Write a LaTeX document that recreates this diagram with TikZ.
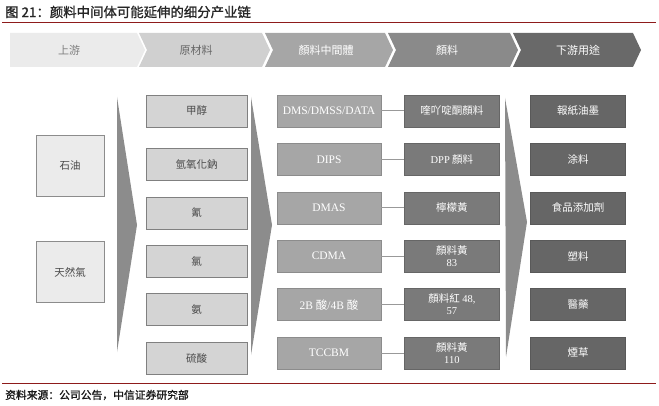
\documentclass[tikz,border=0pt]{standalone}
\usepackage{fontspec}
\setmainfont{Liberation Serif}
\newfontfamily\cjk{Noto Sans CJK TC}
\newfontfamily\cjksc[FakeBold=1.2]{Noto Sans CJK SC}
\usepackage{xcolor}
\usepackage{tikz}
\usetikzlibrary{positioning}

\definecolor{rulered}{HTML}{8E1B1B}
\definecolor{chevone}{HTML}{EBEBEB}
\definecolor{chevtwo}{HTML}{D0D0D0}
\definecolor{chevthree}{HTML}{A6A6A6}
\definecolor{chevfour}{HTML}{8A8A8A}
\definecolor{chevfive}{HTML}{696969}
\definecolor{wedgegray}{HTML}{8C8C8C}
\definecolor{textgray}{HTML}{4A4A4A}

\begin{document}
\begin{tikzpicture}[x=1pt, y=-1pt, node distance=16pt,
  srcbox/.style={rectangle, draw=black!45, fill=chevone, minimum width=68pt, minimum height=61pt, inner sep=0pt, text=textgray, font=\cjk\fontsize{10.5}{12}\selectfont},
  rawbox/.style={rectangle, draw=black!50, fill=black!17, minimum width=101pt, minimum height=32pt, inner sep=0pt, text=textgray, font=\cjk\fontsize{10.5}{12}\selectfont},
  midbox/.style={rectangle, draw=black!45, fill=chevthree, minimum width=104pt, minimum height=32pt, inner sep=0pt, text=white, font=\fontsize{11.5}{13}\selectfont},
  pigbox/.style={rectangle, draw=black!60, fill=black!52, minimum width=95pt, minimum height=32pt, inner sep=0pt, text=white, align=center, font=\cjk\fontsize{10.5}{12}\selectfont},
  usebox/.style={rectangle, draw=black!65, fill=black!60, minimum width=95pt, minimum height=32pt, inner sep=0pt, text=white, font=\cjk\fontsize{10.5}{12}\selectfont},
  chevtext/.style={font=\cjk\fontsize{11}{13}\selectfont, inner sep=0pt}]
\useasboundingbox (0,0) rectangle (659,406);

% title and rules
\node[anchor=west, inner sep=0pt, text=black!85, font=\cjksc\fontsize{13.4}{15}\selectfont] (title) at (5,12) {图 21：颜料中间体可能延伸的细分产业链};
\draw[rulered, line width=0.9pt] (2,22) -- (656,22);
\draw[rulered, line width=0.9pt] (2,383) -- (656,383);
\node[anchor=west, inner sep=0pt, text=black!90, font=\cjksc\fontsize{10.8}{12}\selectfont] (source) at (5,395) {资料来源：公司公告，中信证券研究部};

% chevron row
\fill[chevone] (10,33) -- (137,33) -- (145,50) -- (137,67) -- (10,67) -- cycle;
\fill[chevtwo] (139,33) -- (262,33) -- (270,50) -- (262,67) -- (139,67) -- (147,50) -- cycle;
\fill[chevthree] (265,33) -- (385,33) -- (393,50) -- (385,67) -- (265,67) -- (273,50) -- cycle;
\fill[chevfour] (388,33) -- (510,33) -- (518,50) -- (510,67) -- (388,67) -- (396,50) -- cycle;
\fill[chevfive] (513,33) -- (633,33) -- (641,50) -- (633,67) -- (513,67) -- (521,50) -- cycle;
\node[chevtext, text=black!50] (up) at (69,50) {上游};
\node[chevtext, text=black!60] (raw) at (196,50) {原材料};
\node[chevtext, text=white] (mid) at (326,50) {顏料中間體};
\node[chevtext, text=white] (pig) at (447,50) {顏料};
\node[chevtext, text=white] (down) at (578,50) {下游用途};

% big wedges
\fill[wedgegray] (117,97) -- (137,225) -- (117,352) -- cycle;
\fill[wedgegray] (251,97) -- (272,225) -- (251,355) -- cycle;
\fill[wedgegray] (505,98) -- (527,222) -- (506,357) -- cycle;

% sources
\node[srcbox] (oil) at (70,165.5) {石油};
\node[srcbox] (gas) at (70,272) {天然氣};

% raw materials
\node[rawbox] (meth) at (196.5,111) {甲醇};
\node[rawbox, below=21pt of meth] (naoh) {氫氧化鈉};
\node[rawbox, below=of naoh] (cyan) {氰};
\node[rawbox, below=of cyan] (chlor) {氯};
\node[rawbox, below=of chlor] (ammo) {氨};
\node[rawbox, below=of ammo] (sulf) {硫酸};

% intermediates
\node[midbox] (dms) at (329,111) {DMS/DMSS/DATA};
\node[midbox, below=of dms] (dips) {DIPS};
\node[midbox, below=of dips] (dmas) {DMAS};
\node[midbox, below=of dmas] (cdma) {CDMA};
\node[midbox, below=of cdma] (twob) {2B {\cjk 酸}/4B {\cjk 酸}};
\node[midbox, below=of twob] (tccbm) {TCCBM};

% pigments
\node[pigbox, right=23pt of dms] (quin) {喹吖啶酮顏料};
\node[pigbox, right=23pt of dips] (dpp) {{\rmfamily DPP} 顏料};
\node[pigbox, right=23pt of dmas] (lemon) {檸檬黃};
\node[pigbox, right=23pt of cdma] (yone) {顏料黃\\{\rmfamily 83}};
\node[pigbox, right=23pt of twob] (red) {顏料紅 {\rmfamily 48,}\\{\rmfamily 57}};
\node[pigbox, right=23pt of tccbm] (ytwo) {顏料黃\\{\rmfamily 110}};

\draw[black!40, line width=1pt] (dms) -- (quin);
\draw[black!40, line width=1pt] (dips) -- (dpp);
\draw[black!40, line width=1pt] (dmas) -- (lemon);
\draw[black!40, line width=1pt] (cdma) -- (yone);
\draw[black!40, line width=1pt] (twob) -- (red);
\draw[black!40, line width=1pt] (tccbm) -- (ytwo);

% downstream uses
\node[usebox] (ink) at (578,111) {報紙油墨};
\node[usebox, below=of ink] (coat) {涂料};
\node[usebox, below=of coat] (food) {食品添加劑};
\node[usebox, below=of food] (plast) {塑料};
\node[usebox, below=of plast] (med) {醫藥};
\node[usebox, below=of med] (tob) {煙草};
\end{tikzpicture}
\end{document}
